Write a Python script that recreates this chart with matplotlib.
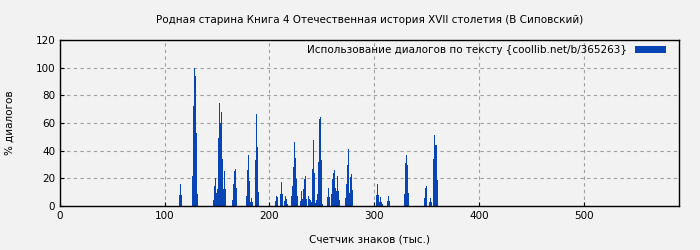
import numpy as np
import matplotlib
matplotlib.use("Agg")
import matplotlib.pyplot as plt

# позиция (тыс. знаков) и доля диалогов, %
pos = [113.8, 114.7, 115.7,
       126.2, 127.2, 128.1, 129.1, 130.0, 131.0,
       146.3, 147.2, 148.2, 149.1, 150.1, 151.1, 152.0, 153.0, 153.9, 154.9, 155.8, 156.8, 157.7,
       164.4, 165.4, 166.3, 167.3, 168.3,
       177.8, 178.8, 179.7, 180.7, 181.6, 182.6, 183.6,
       186.4, 187.4, 188.3, 189.3,
       205.5, 206.5, 207.5,
       210.3, 211.3, 212.2,
       214.1, 215.1, 216.1, 217.0,
       220.8, 221.8, 222.8, 223.7, 224.7, 225.6, 226.6,
       229.4, 230.4, 231.4, 232.3, 233.3, 234.2, 235.2,
       237.1, 238.0, 239.0, 240.0, 240.9, 241.9, 242.8, 243.8,
       244.7, 245.7, 246.7, 247.6, 248.6, 249.5, 250.5,
       255.3, 256.2, 257.2,
       259.1, 260.0, 261.0, 261.9, 262.9, 263.9, 264.8, 265.8, 266.7,
       272.5, 273.4, 274.4, 275.3, 276.3, 277.2, 278.2, 279.2,
       302.1, 303.1, 304.0, 305.0, 305.9, 306.9, 307.8,
       312.6, 313.6, 314.5,
       328.9, 329.8, 330.8, 331.7, 332.7,
       348.0, 349.0, 349.9,
       352.8, 353.8, 354.7,
       356.6, 357.6, 358.6, 359.5, 360.4]
pct = [8, 16, 8,
       21.7, 72, 100, 94, 52.5, 8.7,
       4.3, 14.5, 20, 9.6, 12, 49, 74.7, 60, 68, 34, 12, 25, 12,
       4.3, 16, 25, 27, 13,
       7, 26, 37, 18, 3, 6, 3,
       33, 66.5, 43, 10,
       3.6, 7, 6.5,
       8.7, 17, 8.7,
       3.6, 7, 5, 1.4,
       7, 14.5, 28, 46, 35, 19.5, 7,
       3.6, 11, 5, 12, 19.5, 22, 5,
       7, 5, 4.3, 3, 27, 48, 24, 2,
       4.3, 8.7, 32, 62.7, 64, 33, 1.4,
       6.5, 13, 6.5,
       8.7, 19.5, 24, 26, 13, 11, 21.7, 11, 4.3,
       6, 16, 30, 41, 9.4, 21, 23, 11.6,
       8, 16, 8, 3, 6.5, 3, 1.4,
       3.6, 7, 3.6,
       8.7, 31, 37, 30, 9.4,
       6, 13, 14.5,
       3, 6, 3,
       34, 51, 44, 38, 19]

title = "Родная старина Книга 4 Отечественная история XVII столетия (В Сиповский)"
legend_label = "Использование диалогов по тексту {coollib.net/b/365263}"
bg = "#f2f2f2"
blue = "#0844b4"
fs = 7.5

fig = plt.figure(figsize=(7, 2.5), dpi=100, facecolor=bg)
ax = fig.add_axes([0.0857, 0.176, 0.884, 0.664], facecolor=bg)
ax.bar(pos, pct, width=1.0, align="edge", color=blue, linewidth=0, label=legend_label)

ax.set_xlim(0, 591)
ax.set_ylim(0, 120)
ax.set_xticks(np.arange(0, 600, 100))
ax.set_yticks(np.arange(0, 121, 20))
ax.grid(True, linestyle=(0, (3, 3)), color="#a0a0a0", linewidth=0.8)
ax.set_axisbelow(True)
ax.tick_params(direction="in", labelsize=fs, length=3, top=False, right=False)
for s in ax.spines.values():
    s.set_linewidth(1.0)

ax.set_title(title, fontsize=fs, pad=12)
ax.set_xlabel("Счетчик знаков (тыс.)", fontsize=fs, labelpad=10)
ax.set_ylabel("% диалогов", fontsize=fs, labelpad=15)
ax.legend(loc="upper right", frameon=False, fontsize=fs, markerfirst=False,
          handlelength=2.9, handleheight=0.6, borderaxespad=0.1,
          bbox_to_anchor=(0.987, 1.0))

fig.savefig("out.png", dpi=100, facecolor=bg)
